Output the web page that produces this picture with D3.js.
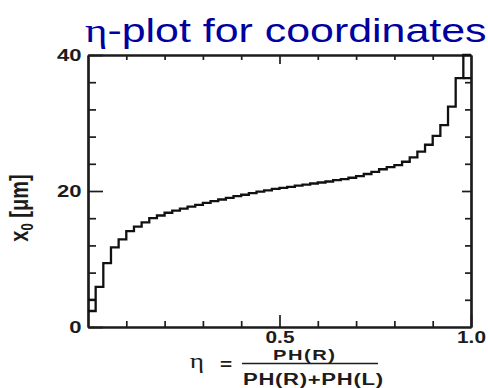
<!DOCTYPE html>
<html>
<head>
<meta charset="utf-8">
<script src="https://cdn.jsdelivr.net/npm/d3@7"></script>
<style>
  html, body { margin: 0; padding: 0; background: #ffffff; }
  svg { display: block; }
</style>
</head>
<body>
<svg id="chart" width="488" height="388"></svg>
<script>
// Histogram of the reconstructed coordinate x0 (µm) against eta, bins of width 0.02
const binWidth = 0.02;
const x0Bins = [
  2.35, 5.9, 9.4, 11.7, 12.9, 14.1, 14.75, 15.4, 16.0, 16.4,
  16.8, 17.1, 17.4, 17.7, 17.95, 18.25, 18.5, 18.75, 19.0, 19.25,
  19.45, 19.7, 19.9, 20.1, 20.3, 20.45, 20.6, 20.8, 20.95, 21.1,
  21.25, 21.4, 21.6, 21.75, 21.95, 22.2, 22.5, 22.8, 23.2, 23.5,
  23.8, 24.3, 24.95, 25.8, 26.8, 28.1, 29.7, 32.4, 36.6, 40
];
// second level drawn in the two edge bins
const edgeBinIndex = [0, 49];
const edgeBinLevel = [4.0, 36.6];

// axes
const etaDomain = [0, 1];
const x0Domain = [0, 40];
const etaMinorTicks = [0.1, 0.2, 0.3, 0.4, 0.6, 0.7, 0.8, 0.9];
const etaMajorTicks = [0.5, 1.0];
const etaTickLabels = ["0.5", "1.0"];
const x0MinorTicks = [4, 8, 12, 16, 24, 28, 32, 36];
const x0MajorTicks = [0, 20, 40];
const x0TickLabels = ["0", "20", "40"];

const titleText = "-plot for coordinates";
const etaSymbol = "\u03b7";

const svg = d3.select("#chart");
const ink = "#1c1c1c";
const hStretch = 1.3;

const margin = { left: 88, right: 17, top: 55, bottom: 61 };
const W = 488, H = 388;

const x = d3.scaleLinear().domain(etaDomain).range([margin.left, W - margin.right]);
const y = d3.scaleLinear().domain(x0Domain).range([H - margin.bottom, margin.top]);

function styleAxis(g, width) {
  g.select(".domain").attr("stroke", ink).attr("stroke-width", width);
  g.selectAll(".tick line").attr("stroke", ink).attr("stroke-width", 1.7);
}

// bottom axis: ticks point inward (up)
const gBottomMinor = svg.append("g")
  .attr("transform", `translate(0,${y(0)})`)
  .call(d3.axisBottom(x).tickValues(etaMinorTicks).tickSize(-6).tickSizeOuter(0).tickFormat(""));
styleAxis(gBottomMinor, 2.2);

const gBottomMajor = svg.append("g")
  .attr("transform", `translate(0,${y(0)})`)
  .call(d3.axisBottom(x).tickValues(etaMajorTicks).tickSize(-12).tickSizeOuter(0)
    .tickPadding(5)
    .tickFormat((d, i) => etaTickLabels[i]));
styleAxis(gBottomMajor, 2.2);
gBottomMajor.selectAll("text")
  .attr("fill", ink).attr("font-family", "Liberation Sans, Arial, sans-serif")
  .attr("font-size", 16).attr("font-weight", "bold")
  .attr("transform", `scale(${hStretch},1)`);

// top axis
const gTopMinor = svg.append("g")
  .attr("transform", `translate(0,${y(40)})`)
  .call(d3.axisTop(x).tickValues(etaMinorTicks).tickSize(-5).tickSizeOuter(0).tickFormat(""));
styleAxis(gTopMinor, 2.2);
const gTopMajor = svg.append("g")
  .attr("transform", `translate(0,${y(40)})`)
  .call(d3.axisTop(x).tickValues([0.5]).tickSize(-9).tickSizeOuter(0).tickFormat(""));
styleAxis(gTopMajor, 2.2);

// left axis
const gLeftMinor = svg.append("g")
  .attr("transform", `translate(${x(0)},0)`)
  .call(d3.axisLeft(y).tickValues(x0MinorTicks).tickSize(-8).tickSizeOuter(0).tickFormat(""));
styleAxis(gLeftMinor, 2.2);
const gLeftMajor = svg.append("g")
  .attr("transform", `translate(${x(0)},0)`)
  .call(d3.axisLeft(y).tickValues(x0MajorTicks).tickSize(-15).tickSizeOuter(0)
    .tickPadding(5)
    .tickFormat((d, i) => x0TickLabels[i]));
styleAxis(gLeftMajor, 2.2);
gLeftMajor.selectAll("text")
  .attr("fill", ink).attr("font-family", "Liberation Sans, Arial, sans-serif")
  .attr("font-size", 17).attr("font-weight", "bold")
  .attr("transform", `scale(${hStretch},1)`);

// right axis
const gRightMinor = svg.append("g")
  .attr("transform", `translate(${x(1)},0)`)
  .call(d3.axisRight(y).tickValues(x0MinorTicks).tickSize(-6).tickSizeOuter(0).tickFormat(""));
styleAxis(gRightMinor, 2.2);
const gRightMajor = svg.append("g")
  .attr("transform", `translate(${x(1)},0)`)
  .call(d3.axisRight(y).tickValues([20]).tickSize(-9).tickSizeOuter(0).tickFormat(""));
styleAxis(gRightMajor, 2.2);

// step histogram
const stepPoints = x0Bins.map((v, i) => [i * binWidth, v]);
stepPoints.push([etaDomain[1], x0Bins[x0Bins.length - 1]]);
const stepLine = d3.line()
  .x(d => x(d[0]))
  .y(d => y(d[1]))
  .curve(d3.curveStepAfter);

svg.append("path")
  .datum(stepPoints)
  .attr("d", stepLine)
  .attr("fill", "none")
  .attr("stroke", "#111")
  .attr("stroke-width", 2.3)
  .attr("stroke-linejoin", "miter");

// extra level in the edge bins
svg.append("g").selectAll("line")
  .data(edgeBinIndex.map((b, i) => ({ b, v: edgeBinLevel[i] })))
  .join("line")
  .attr("x1", d => x(d.b * binWidth))
  .attr("x2", d => x((d.b + 1) * binWidth))
  .attr("y1", d => y(d.v))
  .attr("y2", d => y(d.v))
  .attr("stroke", "#111")
  .attr("stroke-width", 2.3);

// horizontally stretched text helper
function stretchedText(px, py, opts) {
  const g = svg.append("g").attr("transform",
    `translate(${px},${py}) scale(${hStretch},1)` + (opts.rotate ? ` rotate(${opts.rotate})` : ""));
  const t = g.append("text")
    .attr("x", 0).attr("y", 0)
    .attr("text-anchor", opts.anchor || "start")
    .attr("font-family", opts.family || "Liberation Sans, Arial, sans-serif")
    .attr("font-size", opts.size)
    .attr("font-weight", opts.weight || "normal")
    .attr("fill", opts.fill || ink);
  if (opts.length) {
    t.attr("textLength", opts.length / hStretch).attr("lengthAdjust", "spacing");
  }
  return t;
}

// title
const title = stretchedText(85, 42, { size: 33, fill: "#0000a0" });
title.append("tspan").attr("font-family", "Liberation Serif, Times New Roman, serif").text(etaSymbol);
title.append("tspan").text(titleText);

// y axis label: x0 [µm]
const yLab = stretchedText(28, 208, { size: 20, weight: "bold", anchor: "middle", rotate: -90 });
yLab.append("tspan").text("x");
yLab.append("tspan").attr("font-size", 13).attr("dy", 4).text("0");
yLab.append("tspan").attr("dy", -4).text(" [\u03bcm]");

// x axis label: eta = PH(R) / (PH(R)+PH(L))
stretchedText(197, 368, { size: 21, anchor: "middle", family: "Liberation Serif, serif" }).text(etaSymbol);
stretchedText(226, 370, { size: 16, anchor: "middle", weight: "bold" }).text("=");
stretchedText(304, 360, { size: 15.5, anchor: "middle", weight: "bold", length: 62 }).text("PH(R)");
svg.append("line")
  .attr("x1", 242).attr("x2", 378).attr("y1", 363.5).attr("y2", 363.5)
  .attr("stroke", ink).attr("stroke-width", 1.6);
stretchedText(313, 385, { size: 17, anchor: "middle", weight: "bold", length: 140 }).text("PH(R)+PH(L)");
</script>
</body>
</html>
